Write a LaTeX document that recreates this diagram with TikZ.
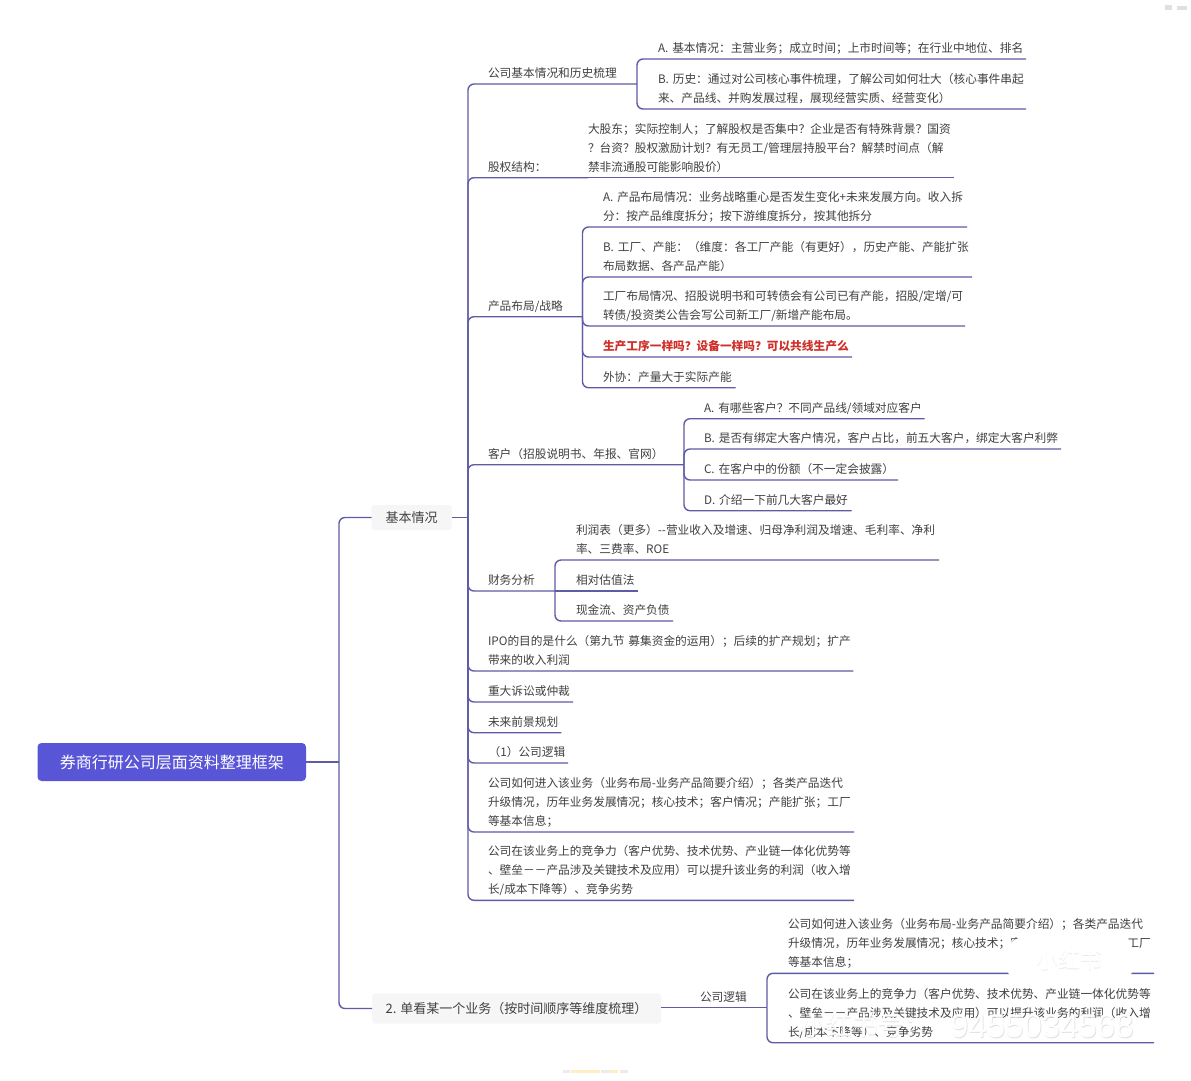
\documentclass[tikz,border=0pt]{standalone}
\usepackage{fontspec}
\setmainfont{Noto Sans CJK SC}
\newfontfamily\wmfont{Liberation Sans}
\definecolor{branchc}{HTML}{5F5BA6}
\definecolor{rootc}{HTML}{5856D6}
\definecolor{textc}{HTML}{404040}
\definecolor{redc}{HTML}{D0302A}
\definecolor{boxc}{HTML}{F6F6F7}
\tikzset{
  branch/.style={draw=branchc,line width=1.4pt,rounded corners=6pt},
  plainline/.style={draw=branchc,line width=1.4pt},
  leaf/.style={anchor=south west,inner xsep=0pt,inner ysep=3.7pt,outer sep=0pt,align=left,text=textc,
    font=\fontsize{11.7}{19}\selectfont},
  topicbox/.style={fill=boxc,rounded corners=3pt,inner sep=0pt,outer sep=0pt,text=textc,font=\fontsize{13}{16}\selectfont},
  rootbox/.style={fill=rootc,rounded corners=4pt,inner sep=0pt,outer sep=0pt,text=white,font=\fontsize{16}{20}\selectfont},
  wmark/.style={inner sep=0pt,text=white},
}
\newcommand{\leafnode}[5]{\pgfmathsetmacro{\lw}{#4-#2}\node[leaf,text width=\lw pt] (#1) at (#2,#3) {#5\rule[-3pt]{0pt}{3pt}};}
\begin{document}
\begin{tikzpicture}[x=1pt,y=-1pt]
\useasboundingbox (0,0) rectangle (1191,1080);
\fill[white] (0,0) rectangle (1191,1080);
% root and topics
\node[rootbox,minimum width=268.5pt,minimum height=38pt] (root) at (171.75,762) {券商行研公司层面资料整理框架};
\node[topicbox,minimum width=80pt,minimum height=25pt] (basic) at (411.5,517.5) {基本情况};
\node[topicbox,minimum width=289pt,minimum height=30pt,align=left] (single) at (516.5,1008.5) {2. 单看某一个业务（按时间顺序等维度梳理）};
\coordinate (t0) at (339,762);
\coordinate (t1) at (468,517.5);
% level 2 under basic
\leafnode{company}{488}{84}{637}{公司基本情况和历史梳理}
\leafnode{companyA}{658}{59}{1026}{A. 基本情况：主营业务；成立时间；上市时间等；在行业中地位、排名}
\leafnode{companyB}{658}{109}{1026}{B. 历史：通过对公司核心事件梳理，了解公司如何壮大（核心事件串起\\来、产品线、并购发展过程，展现经营实质、经营变化）}
\leafnode{equity}{488}{177.7}{588}{股权结构：}
\leafnode{equityD}{588}{177.7}{954}{大股东；实际控制人；了解股权是否集中？企业是否有特殊背景？国资\\？台资？股权激励计划？有无员工/管理层持股平台？解禁时间点（解\\禁非流通股可能影响股价）}
\leafnode{product}{488}{316.7}{582.5}{产品布局/战略}
\leafnode{productA}{603}{227}{967}{A. 产品布局情况：业务战略重心是否发生变化+未来发展方向。收入拆\\分：按产品维度拆分；按下游维度拆分，按其他拆分}
\leafnode{productB}{603}{277}{972}{B. 工厂、产能：（维度：各工厂产能（有更好），历史产能、产能扩张\\布局数据、各产品产能）}
\leafnode{productC}{603}{326}{965}{工厂布局情况、招股说明书和可转债会有公司已有产能，招股/定增/可\\转债/投资类公告会写公司新工厂/新增产能布局。}
\leafnode{productD}{603}{357}{852}{\textcolor{redc}{\bfseries 生产工序一样吗？设备一样吗？可以共线生产么}}
\leafnode{productE}{603}{387.7}{735.5}{外协：产量大于实际产能}
\leafnode{customer}{488}{464.7}{684}{客户（招股说明书、年报、官网）}
\leafnode{customerA}{704}{418.7}{924.6}{A. 有哪些客户？不同产品线/领域对应客户}
\leafnode{customerB}{704}{449}{1061}{B. 是否有绑定大客户情况，客户占比，前五大客户，绑定大客户利弊}
\leafnode{customerC}{704}{480}{898}{C. 在客户中的份额（不一定会披露）}
\leafnode{customerD}{704}{510.7}{851.5}{D. 介绍一下前几大客户最好}
\leafnode{finance}{488}{591}{555}{财务分析}
\leafnode{financeA}{576}{560}{939}{利润表（更多）-{}-营业收入及增速、归母净利润及增速、毛利率、净利\\率、三费率、ROE}
\leafnode{financeB}{576}{591}{638}{相对估值法}
\leafnode{financeC}{576}{621}{673}{现金流、资产负债}
\leafnode{ipo}{488}{671}{853.4}{IPO的目的是什么（第九节 募集资金的运用）；后续的扩产规划；扩产\\带来的收入利润}
\leafnode{lawsuit}{488}{702}{573}{重大诉讼或仲裁}
\leafnode{future}{488}{732.7}{561.4}{未来前景规划}
\leafnode{logicone}{488.6}{763}{568}{（1）公司逻辑}
\leafnode{enter}{488}{832}{854}{公司如何进入该业务（业务布局-业务产品简要介绍）；各类产品迭代\\升级情况，历年业务发展情况；核心技术；客户情况；产能扩张；工厂\\等基本信息；}
\leafnode{compete}{488}{900.3}{854}{公司在该业务上的竞争力（客户优势、技术优势、产业链一体化优势等\\、壁垒－－产品涉及关键技术及应用）可以提升该业务的利润（收入增\\长/成本下降等）、竞争劣势}
% second topic
\leafnode{logictwo}{700}{1007.7}{767}{公司逻辑}
\leafnode{enterTwo}{788}{973.3}{1154}{公司如何进入该业务（业务布局-业务产品简要介绍）；各类产品迭代\\升级情况，历年业务发展情况；核心技术；客户情况；产能扩张；工厂\\等基本信息；}
\leafnode{competeTwo}{788}{1042.7}{1154}{公司在该业务上的竞争力（客户优势、技术优势、产业链一体化优势等\\、壁垒－－产品涉及关键技术及应用）可以提升该业务的利润（收入增\\长/成本下降等）、竞争劣势}
% connectors
\draw[plainline] (root.east) -- (t0);
\draw[branch] (t0) |- (basic.west);
\draw[branch] (t0) |- (single.west);
\draw[plainline] (basic.east) -- (t1);
\foreach \n in {company,equity,product,customer,finance,ipo,lawsuit,future,logicone,enter,compete}{
  \draw[branch] (t1) |- (\n.south east);
}
\draw[plainline] (equity.south east) -- (equityD.south east);
\foreach \n in {companyA,companyB}{\draw[branch] (company.south east) |- (\n.south east);}
\foreach \n in {productA,productB,productC,productD,productE}{\draw[branch] (product.south east) |- (\n.south east);}
\foreach \n in {customerA,customerB,customerC,customerD}{\draw[branch] (customer.south east) |- (\n.south east);}
\foreach \n in {financeA,financeC}{\draw[branch] (finance.south east) |- (\n.south east);}
\draw[plainline] (finance.south east) -- (financeB.south east);
\draw[plainline] (single.east |- logictwo.south east) -- (logictwo.south east);
\foreach \n in {enterTwo,competeTwo}{\draw[branch] (logictwo.south east) |- (\n.south east);}
% watermark
\fill[white,rounded corners=20pt] (1005,937) rectangle (1135,982);
\node[wmark,text=black!8,font=\fontsize{22}{24}\selectfont] (wmlogoS) at (1069.5,961) {小红书};
\node[wmark,font=\fontsize{22}{24}\selectfont] (wmlogo) at (1069,960.5) {小红书};
\node[wmark,anchor=west,text=black!12,font=\fontsize{26}{28}\selectfont] (wmcnS) at (800.7,1027) {小红书号：};
\node[wmark,anchor=west,font=\fontsize{26}{28}\selectfont] (wmcn) at (800,1026) {小红书号：};
\node[wmark,anchor=west,text=black!12,font=\wmfont\fontsize{33}{35}\selectfont] (wmnumS) at (950.7,1027) {9455034568};
\node[wmark,anchor=west,font=\wmfont\fontsize{33}{35}\selectfont] (wmnum) at (950,1026) {9455034568};
% faint marks at top right and foot
\fill[black!12] (1165,5) rectangle (1172,10);
\fill[black!12] (1177,5.5) rectangle (1187,9.5);
\fill[black!8] (563,1070) rectangle (570,1072.5);
\fill[yellow!50!orange!22] (571,1070) rectangle (600,1072.5);
\fill[black!8] (601,1070) rectangle (610,1072.5);
\fill[yellow!50!orange!22] (610,1070) rectangle (618,1072.5);
\fill[black!8] (620,1070) rectangle (628,1072.5);
\end{tikzpicture}
\end{document}
